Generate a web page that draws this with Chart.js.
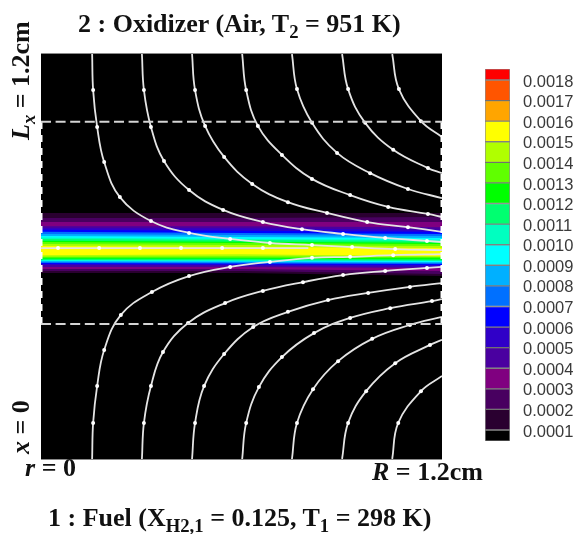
<!DOCTYPE html>
<html>
<head>
<meta charset="utf-8">
<script src="https://cdn.jsdelivr.net/npm/chart.js@4"></script>
<style>
  body { margin: 0; background: #fff; width: 575px; height: 534px; overflow: hidden; position: relative; }
  canvas { position: absolute; filter: blur(0.45px); }
  #plot { left: 0; top: 0; }
  #bar { left: 485px; top: 46px; }
  .lab { position: absolute; white-space: nowrap; font-family: "Liberation Serif", serif; font-weight: bold; font-size: 26px; color: #111; line-height: 1; filter: blur(0.35px); }
  .lab sub { font-size: 0.72em; vertical-align: -0.34em; line-height: 0; }
  .rot { transform-origin: left top; transform: rotate(-90deg); }
</style>
</head>
<body>
<canvas id="plot" width="575" height="534"></canvas>
<canvas id="bar" width="90" height="418"></canvas>
<div class="lab" style="left:78px;top:11px">2 : Oxidizer (Air, T<sub>2</sub> = 951 K)</div>
<div class="lab" style="left:48px;top:505px">1 : Fuel (X<sub>H2,1</sub> = 0.125, T<sub>1</sub> = 298 K)</div>
<div class="lab" style="left:25px;top:455px"><i>r</i> = 0</div>
<div class="lab" style="left:372px;top:459px"><i>R</i> = 1.2cm</div>
<div class="lab rot" style="left:8px;top:140px"><i>L<sub>x</sub></i> = 1.2cm</div>
<div class="lab rot" style="left:8px;top:454px"><i>x</i> = 0</div>
<script>
// contour levels and colours, bottom to top of the colour bar
var levels = [0.0001, 0.0002, 0.0003, 0.0004, 0.0005, 0.0006, 0.0007, 0.0008, 0.0009, 0.0010, 0.0011, 0.0012, 0.0013, 0.0014, 0.0015, 0.0016, 0.0017, 0.0018];
var cellColors = ["#000000", "#2a0030", "#480060", "#800080", "#4a00a0", "#3000c8", "#0000ff", "#0070ff", "#00b0ff", "#00ffff", "#00ffc0", "#00ff70", "#00ff00", "#60ff00", "#b0ff00", "#ffff00", "#ffa500", "#ff5500", "#ff0000"];

// where each level crosses, in cm, at these radii (outer side and inner side of the flame)
var edgeR = [0, 0.6, 1.2];
var edgeUpper = [
  [0.729, 0.729, 0.729], [0.714, 0.714, 0.717], [0.702, 0.702, 0.702], [0.690, 0.690, 0.687], [0.684, 0.684, 0.679],
  [0.679, 0.676, 0.673], [0.673, 0.670, 0.667], [0.667, 0.664, 0.661], [0.661, 0.658, 0.655], [0.656, 0.652, 0.650],
  [0.652, 0.649, 0.646], [0.647, 0.644, 0.641], [0.643, 0.640, 0.637], [0.637, 0.634, 0.631], [0.631, 0.628, 0.625]
];
var edgeLower = [
  [0.551, 0.551, 0.542], [0.557, 0.557, 0.548], [0.563, 0.563, 0.557], [0.569, 0.569, 0.566], [0.575, 0.573, 0.569],
  [0.578, 0.576, 0.575], [0.581, 0.579, 0.578], [0.584, 0.582, 0.581], [0.587, 0.585, 0.584], [0.588, 0.587, 0.587],
  [0.590, 0.590, 0.588], [0.593, 0.593, 0.591], [0.596, 0.596, 0.596], [0.599, 0.601, 0.599], [0.604, 0.607, 0.601]
];

// streamlines, radial and axial position in cm
var streamR = [
  [0.153, 0.156, 0.168, 0.189, 0.236, 0.329, 0.443, 0.566, 0.685, 0.811, 0.931, 1.060, 1.2],
  [0.302, 0.308, 0.329, 0.368, 0.443, 0.545, 0.664, 0.781, 0.904, 1.030, 1.155, 1.2],
  [0.452, 0.461, 0.491, 0.548, 0.632, 0.739, 0.856, 0.976, 1.098, 1.2],
  [0.602, 0.614, 0.649, 0.721, 0.811, 0.925, 1.039, 1.158, 1.2],
  [0.751, 0.766, 0.811, 0.886, 0.985, 1.098, 1.2],
  [0.901, 0.919, 0.970, 1.054, 1.158, 1.2],
  [1.051, 1.071, 1.137, 1.2],
  [0.153, 0.156, 0.168, 0.189, 0.239, 0.332, 0.443, 0.566, 0.685, 0.811, 0.925, 1.054, 1.2],
  [0.302, 0.308, 0.329, 0.365, 0.440, 0.551, 0.664, 0.784, 0.904, 1.030, 1.155, 1.2],
  [0.452, 0.461, 0.488, 0.548, 0.635, 0.739, 0.859, 0.979, 1.104, 1.2],
  [0.602, 0.614, 0.652, 0.721, 0.817, 0.925, 1.045, 1.170, 1.2],
  [0.751, 0.766, 0.814, 0.889, 0.991, 1.104, 1.2],
  [0.901, 0.919, 0.973, 1.060, 1.164, 1.2],
  [1.051, 1.069, 1.137, 1.2],
  [0, 0.051, 0.174, 0.296, 0.419, 0.542, 0.664, 0.8]
];
var streamX = [
  [1.2, 1.093, 0.984, 0.880, 0.776, 0.705, 0.670, 0.652, 0.640, 0.634, 0.628, 0.622, 0.619],
  [1.2, 1.093, 0.984, 0.883, 0.797, 0.738, 0.702, 0.681, 0.667, 0.655, 0.646, 0.643],
  [1.2, 1.093, 0.987, 0.895, 0.815, 0.761, 0.729, 0.702, 0.687, 0.673],
  [1.2, 1.093, 0.987, 0.901, 0.830, 0.782, 0.747, 0.726, 0.717],
  [1.2, 1.096, 0.996, 0.907, 0.847, 0.800, 0.773],
  [1.2, 1.096, 0.996, 0.916, 0.862, 0.847],
  [1.2, 1.096, 1.001, 0.954],
  [0, 0.107, 0.216, 0.323, 0.427, 0.495, 0.542, 0.569, 0.584, 0.596, 0.599, 0.604, 0.607],
  [0, 0.107, 0.216, 0.317, 0.403, 0.462, 0.498, 0.524, 0.545, 0.557, 0.566, 0.569],
  [0, 0.107, 0.216, 0.311, 0.391, 0.436, 0.471, 0.492, 0.510, 0.521],
  [0, 0.107, 0.213, 0.302, 0.373, 0.418, 0.447, 0.468, 0.474],
  [0, 0.107, 0.207, 0.290, 0.356, 0.397, 0.421],
  [0, 0.107, 0.201, 0.284, 0.338, 0.353],
  [0, 0.107, 0.201, 0.246],
  [0.625, 0.625, 0.625, 0.625, 0.625, 0.625, 0.625, 0.625]
];

// dashed box of the computational zone
var boxTop = 0.999;
var boxBottom = 0.400;
var domainR = 1.2;
var domainX = 1.2;

function toPoints(xs, ys) {
  return xs.map(function (v, i) { return { x: v, y: ys[i] }; });
}

var datasets = [];

function dashed(pts, color, width, dash) {
  datasets.push({ data: pts, showLine: true, borderColor: color, borderWidth: width, borderDash: dash, pointRadius: 0, tension: 0 });
}
dashed(toPoints([0, domainR], [boxTop, boxTop]), "#d4d4d4", 2, [10, 4.6]);
dashed(toPoints([0, domainR], [boxBottom, boxBottom]), "#d4d4d4", 2, [10, 4.6]);
dashed(toPoints([0, 0], [boxBottom, boxTop]), "#ffffff", 3, [7, 6]);
dashed(toPoints([domainR, domainR], [boxBottom, boxTop]), "#ffffff", 3, [7, 6]);

streamR.forEach(function (rs, k) {
  var last = rs.length - 1;
  datasets.push({
    data: toPoints(rs, streamX[k]),
    showLine: true,
    borderColor: "#e4e4e4",
    borderWidth: 1.8,
    tension: 0.4,
    pointBackgroundColor: "#ffffff",
    pointBorderWidth: 0,
    pointRadius: function (ctx) { return (ctx.dataIndex == 0 || ctx.dataIndex == last) ? 0 : 2; }
  });
});

// highest level first, chart.js paints the last dataset first
for (var i = edgeUpper.length - 1; i >= 0; i--) {
  datasets.push({ data: toPoints(edgeR, edgeUpper[i]), showLine: true, fill: "+1", backgroundColor: cellColors[i + 1], borderWidth: 0, pointRadius: 0, tension: 0 });
  datasets.push({ data: toPoints(edgeR, edgeLower[i]), showLine: true, fill: false, borderWidth: 0, pointRadius: 0, tension: 0 });
}

var blackField = {
  id: "blackField",
  beforeDatasetsDraw: function (chart) {
    var a = chart.chartArea, c = chart.ctx;
    c.save();
    c.fillStyle = "#000";
    c.fillRect(a.left, a.top, a.width, a.height);
    // only top and bottom get the grey edge, the sides carry the dashes
    c.fillStyle = "#8a8a8a";
    c.fillRect(a.left, a.top - 1, a.width, 1);
    c.fillRect(a.left, a.bottom, a.width, 1);
    c.restore();
  }
};

new Chart(document.getElementById("plot"), {
  type: "scatter",
  data: { datasets: datasets },
  plugins: [blackField],
  options: {
    responsive: false,
    animation: false,
    layout: { padding: { left: 41, right: 133, top: 54, bottom: 75 } },
    plugins: { legend: { display: false }, tooltip: { enabled: false } },
    scales: {
      x: { display: false, min: 0, max: domainR },
      y: { display: false, min: 0, max: domainX }
    }
  }
});

// colour bar
var cellLow = [0.000046].concat(levels);
var cellHigh = levels.concat([0.001854]);
var barSets = cellColors.map(function (col, i) {
  return { data: [[cellLow[i], cellHigh[i]]], backgroundColor: col, borderColor: "rgba(50,50,50,0.55)", borderWidth: 1, borderSkipped: false, barPercentage: 1, categoryPercentage: 1, grouped: false };
});

// the printed labels sit about 2px under their cell boundary
var labelDrop = 0.00001;

new Chart(document.getElementById("bar"), {
  type: "bar",
  data: { labels: [""], datasets: barSets },
  options: {
    responsive: false,
    animation: false,
    plugins: { legend: { display: false }, tooltip: { enabled: false } },
    scales: {
      x: { display: false },
      y: {
        position: "right",
        min: 0.000046,
        max: 0.001854,
        grid: { display: false, drawTicks: false },
        border: { display: false },
        afterBuildTicks: function (axis) { axis.ticks = levels.map(function (v) { return { value: v - labelDrop }; }); },
        afterFit: function (axis) { axis.width = 65; },
        ticks: {
          autoSkip: false,
          padding: 13,
          color: "#3a3a3a",
          font: { family: "'Liberation Sans', Arial, sans-serif", size: 16.5 },
          callback: function (v) { return v.toFixed(4); }
        }
      }
    }
  }
});
</script>
</body>
</html>
